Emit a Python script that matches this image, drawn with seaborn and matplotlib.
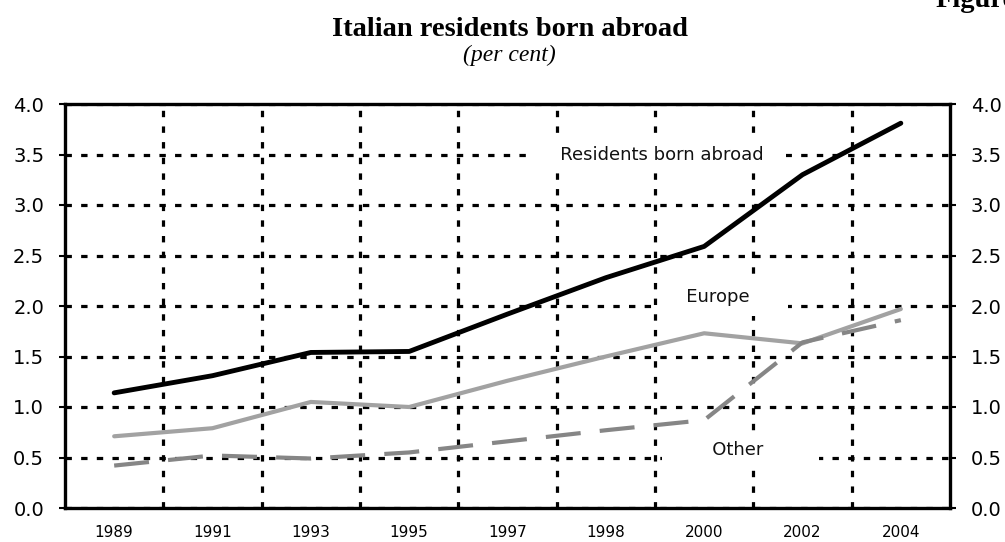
import matplotlib
matplotlib.use("Agg")
import matplotlib.pyplot as plt
from matplotlib.ticker import FixedLocator
import seaborn as sns
import pandas as pd

# Share of Italian residents born abroad (per cent)
years = ["1989", "1991", "1993", "1995", "1997", "1998", "2000", "2002", "2004"]
born_abroad = [1.14, 1.31, 1.54, 1.55, 1.92, 2.28, 2.59, 3.30, 3.81]
europe = [0.71, 0.79, 1.05, 1.00, 1.26, 1.50, 1.73, 1.63, 1.97]
other = [0.42, 0.52, 0.49, 0.55, 0.66, 0.77, 0.87, 1.64, 1.86]

series_names = ["Residents born abroad", "Europe", "Other"]
frames = []
for name, vals in zip(series_names, [born_abroad, europe, other]):
    frames.append(pd.DataFrame({"year": years, "value": vals, "series": name}))
df = pd.concat(frames, ignore_index=True)

sns.set_theme(style="white")
plt.rcParams["font.family"] = ["DejaVu Sans"]
plt.rcParams.update({"text.color": "black", "axes.labelcolor": "black",
                     "xtick.color": "black", "ytick.color": "black"})

fig = plt.figure(figsize=(10.05, 5.42), dpi=100)
ax = fig.add_axes([65 / 1005, 1 - 508 / 542, (950 - 65) / 1005, (508 - 104) / 542])

styles = {
    "Residents born abroad": dict(color="#000000", lw=3.5, ls="-"),
    "Europe": dict(color="#a2a2a2", lw=3.0, ls="-"),
    "Other": dict(color="#868686", lw=3.0, ls=(0, (8.4, 4.6))),
}
for name in series_names:
    st = styles[name]
    sns.lineplot(data=df[df["series"] == name], x="year", y="value", ax=ax,
                 color=st["color"], linewidth=st["lw"], linestyle=st["ls"],
                 sort=False, legend=False, zorder=3)

ax.set_xlim(-0.5, len(years) - 0.5)
ax.set_ylim(0, 4.0)
ax.set_yticks([0.0, 0.5, 1.0, 1.5, 2.0, 2.5, 3.0, 3.5, 4.0])
ax.set_yticklabels([f"{v:.1f}" for v in ax.get_yticks()])
ax.xaxis.set_minor_locator(FixedLocator([i + 0.5 for i in range(len(years) - 1)]))
ax.set_xlabel("")
ax.set_ylabel("")

# Dotted grid: vertical lines between the years, horizontal at every tick
ax.grid(False)
grid_ls = (0, (2.0, 2.9))
ax.xaxis.grid(True, which="minor", color="black", linestyle=grid_ls, linewidth=2.3)
ax.yaxis.grid(True, which="major", color="black", linestyle=grid_ls, linewidth=2.3)
ax.set_axisbelow(True)

for sp in ax.spines.values():
    sp.set_visible(True)
    sp.set_color("black")
    sp.set_linewidth(2.4)

ax.tick_params(axis="x", which="both", length=0, labelsize=11, pad=12)
ax.tick_params(axis="y", which="major", length=4, width=1.5, direction="out",
               labelsize=14, left=True, right=True, labelleft=True, labelright=True,
               pad=11)

# Series labels on white boxes that blank out the grid behind them
box = dict(boxstyle="square,pad=0.55", facecolor="white", edgecolor="none")
ax.text(5.546, 3.5, "   Residents born abroad  ", ha="center", va="center",
        fontsize=13, color="#111111", bbox=box, zorder=2)
ax.text(6.20, 2.09, "   Europe     ", ha="center", va="center",
        fontsize=13, color="#111111", bbox=box, zorder=2)
ax.text(6.37, 0.57, "       Other        ", ha="center", va="center",
        fontsize=13, color="#111111", bbox=box, zorder=2)

fig.text(0.507, 1 - 30 / 542, "Italian residents born abroad", ha="center", va="center",
         fontsize=20.5, fontweight="bold", family="Liberation Serif")
fig.text(0.507, 1 - 55 / 542, "(per cent)", ha="center", va="center",
         fontsize=17, fontstyle="italic", family="Liberation Serif")
fig.text(936 / 1005, 1 - 7 / 542, "Figure", ha="left", va="baseline",
         fontsize=20.5, fontweight="bold", family="Liberation Serif")

fig.savefig("out.png", dpi=100, facecolor="white")
